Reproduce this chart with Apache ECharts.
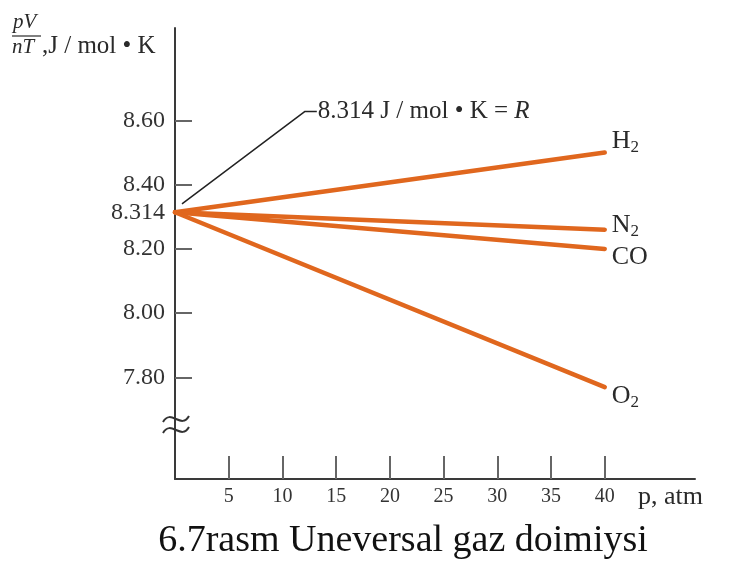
<!DOCTYPE html>
<html>
<head>
<meta charset="utf-8">
<script src="https://cdn.jsdelivr.net/npm/echarts@6/dist/echarts.min.js"></script>
<style>
  html, body { margin: 0; padding: 0; background: #fff; }
  #chart { width: 733px; height: 565px; }
</style>
</head>
<body>
<div id="chart"></div>
<script>
// pV/nT of real gases versus pressure (at 0 atm every gas gives R)
const R = 8.314;
const pressureAtm = [0, 40];
const valuesH2 = [R, 8.50];
const valuesN2 = [R, 8.26];
const valuesCO = [R, 8.20];
const valuesO2 = [R, 7.77];
const gasLabels = ['H{s|2}', 'N{s|2}', 'CO', 'O{s|2}'];

// axis ticks and labels
const xTicks = [5, 10, 15, 20, 25, 30, 35, 40];
const yTicks = [7.80, 8.00, 8.20, 8.40, 8.60];
const yLabels = [7.80, 8.00, 8.20, R, 8.40, 8.60];

// leader line for the R annotation (p, pV/nT)
const leaderP = [0.65, 12.1, 13.2];
const leaderV = [8.34, 8.628, 8.628];

const SERIF = '"Liberation Serif", "Times New Roman", serif';
const ORANGE = '#E0671E';
const INK = '#2a2a2a';

const chart = echarts.init(document.getElementById('chart'), null, { renderer: 'canvas' });

function pairs(xs, ys) { return xs.map((x, i) => [x, ys[i]]); }

const labelRich = {
  s: { fontFamily: SERIF, fontSize: 17, color: INK, padding: [12, 0, 0, 0] }
};

function gasSeries(name, values, label, dy) {
  return {
    name: name,
    type: 'line',
    data: pairs(pressureAtm, values),
    symbol: 'none',
    silent: true,
    lineStyle: { color: ORANGE, width: 4.5, cap: 'round' },
    endLabel: {
      show: true,
      formatter: label,
      distance: 7,
      offset: [0, dy],
      fontFamily: SERIF,
      fontSize: 26,
      color: INK,
      rich: labelRich
    },
    z: 3
  };
}

// one wave of the axis-break sign, centred on (cx, cy)
function breakWave(cx, cy) {
  return {
    type: 'bezierCurve',
    z: 10,
    shape: { x1: cx - 13, y1: cy + 3, cpx1: cx - 5, cpy1: cy - 11, cpx2: cx + 5, cpy2: cy + 11, x2: cx + 13, y2: cy - 3 },
    style: { stroke: '#333', lineWidth: 2, fill: null }
  };
}

chart.setOption({
  backgroundColor: '#ffffff',
  animation: false,
  grid: { left: 175, right: 38, top: 28, bottom: 86, containLabel: false, outerBoundsMode: 'none' },
  xAxis: {
    type: 'value',
    min: 0,
    max: 48.4,
    axisLine: { show: true, lineStyle: { color: '#3a3a3a', width: 2 } },
    axisTick: { show: true, inside: true, length: 23, customValues: xTicks, lineStyle: { color: '#666', width: 2 } },
    axisLabel: { customValues: xTicks, fontFamily: SERIF, fontSize: 20, color: '#333', margin: 8 },
    splitLine: { show: false }
  },
  yAxis: {
    type: 'value',
    min: 7.484,
    max: 8.8875,
    axisLine: { show: true, lineStyle: { color: '#3a3a3a', width: 2 } },
    axisTick: { show: true, inside: true, length: 17, customValues: yTicks, lineStyle: { color: '#666', width: 2 } },
    axisLabel: {
      customValues: yLabels,
      formatter: v => (Math.abs(v - R) < 1e-9 ? '8.314' : v.toFixed(2)),
      fontFamily: SERIF, fontSize: 24, color: '#333', margin: 10, hideOverlap: false
    },
    splitLine: { show: false }
  },
  series: [
    gasSeries('H2', valuesH2, gasLabels[0], -11),
    gasSeries('N2', valuesN2, gasLabels[1], -4),
    gasSeries('CO', valuesCO, gasLabels[2], 8),
    gasSeries('O2', valuesO2, gasLabels[3], 9),
    {
      name: 'R',
      type: 'line',
      data: pairs(leaderP, leaderV),
      symbol: 'none',
      silent: true,
      lineStyle: { color: '#222', width: 1.5 },
      endLabel: {
        show: true,
        formatter: '8.314 J / mol \u2022 K = {i|R}',
        distance: 1,
        fontFamily: SERIF,
        fontSize: 25,
        color: INK,
        rich: { i: { fontFamily: SERIF, fontSize: 25, fontStyle: 'italic', color: INK } }
      },
      z: 4
    }
  ],
  graphic: [
    // y-axis title: pV / nT, J / mol·K
    { type: 'text', left: 13, top: 12, style: { text: 'pV', font: 'italic 21px ' + SERIF, fill: INK } },
    { type: 'line', shape: { x1: 12, y1: 36, x2: 41, y2: 36 }, style: { stroke: INK, lineWidth: 1.2 } },
    { type: 'text', left: 12, top: 37, style: { text: 'nT', font: 'italic 21px ' + SERIF, fill: INK } },
    { type: 'text', left: 42, top: 34, style: { text: ',J / mol \u2022 K', font: '25px ' + SERIF, fill: INK } },
    // axis break sign
    breakWave(176, 419),
    breakWave(176, 430),
    // x-axis title
    { type: 'text', x: 638, y: 497, style: { text: 'p, atm', font: '26px ' + SERIF, fill: INK, align: 'left', verticalAlign: 'middle' } },
    // caption
    { type: 'text', x: 403, y: 541, style: { text: '6.7rasm Uneversal gaz doimiysi', font: '38px ' + SERIF, fill: '#111', align: 'center', verticalAlign: 'middle' } }
  ]
});
</script>
</body>
</html>
